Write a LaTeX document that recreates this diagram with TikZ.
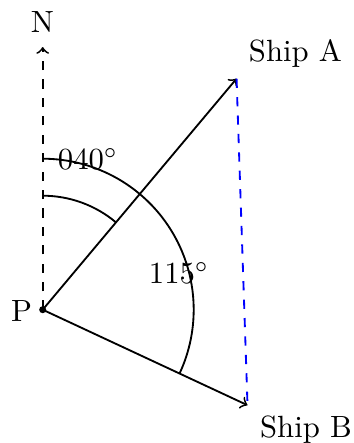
\documentclass[tikz,border=0pt]{standalone}
\usetikzlibrary{calc}
\begin{document}
\begin{tikzpicture}[x=0.3257pt,y=0.3257pt,
  ln/.style={semithick},
  dsh/.style={semithick,dashed},
  lbl/.style={inner sep=0pt}]
\useasboundingbox (0,0) rectangle (354,443);
\coordinate (P) at (42.7,133.3);
\coordinate (A) at ($(P)+(50:301.6)$);
\coordinate (B) at ($(P)+(-25:226)$);
\coordinate (Ntip) at (42.7,396);
% north line
\draw[dsh,->] (P) -- (Ntip);
% ship lines
\draw[ln,->] (P) -- (A);
\draw[ln,->] (P) -- (B);
\draw[dsh,blue] (A) -- (B);
% arcs
\draw[ln] ($(P)+(0,114)$) arc[start angle=90,end angle=50,radius=114];
\draw[ln] ($(P)+(0,151)$) arc[start angle=90,end angle=-25,radius=151];
\fill (P) circle[radius=1.15pt];
% labels
\node[lbl] (nl) at (42.5,421) {N};
\node[lbl] (pl) at (21.5,131.5) {P};
\node[lbl] (al) at (295.5,389.5) {Ship A};
\node[lbl] (bl) at (306,13) {Ship B};
\node[lbl] (a40) at (88,284) {$040^\circ$};
\node[lbl] (a115) at (179,170) {$115^\circ$};
\end{tikzpicture}
\end{document}
